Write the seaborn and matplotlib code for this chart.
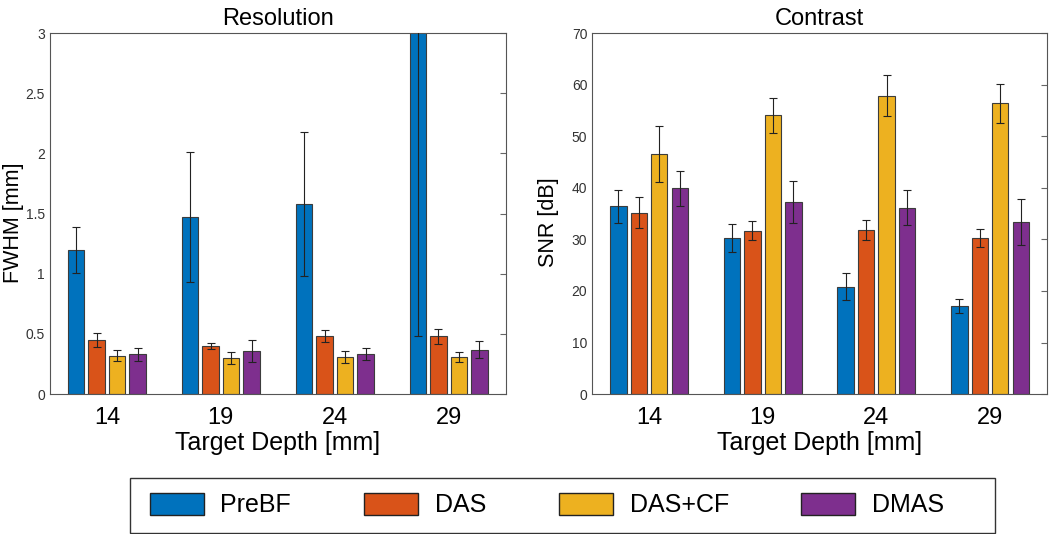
#!/usr/bin/env python3
"""Grouped bar charts of resolution (FWHM) and contrast (SNR) vs target depth."""

import matplotlib.pyplot as plt
import matplotlib.ticker as mticker
from matplotlib.patches import Rectangle
import pandas as pd
import seaborn as sns

DEPTHS = ["14", "19", "24", "29"]
METHODS = ["PreBF", "DAS", "DAS+CF", "DMAS"]
COLORS = ["#0072BD", "#D95319", "#EDB120", "#7E2F8E"]

# FWHM [mm], mean and error per method (one value per depth)
FWHM_PREBF = [1.20, 1.47, 1.58, 3.40]
FWHM_PREBF_ERR = [0.19, 0.54, 0.60, 2.92]
FWHM_DAS = [0.45, 0.40, 0.48, 0.48]
FWHM_DAS_ERR = [0.06, 0.025, 0.05, 0.06]
FWHM_DASCF = [0.32, 0.30, 0.31, 0.31]
FWHM_DASCF_ERR = [0.045, 0.05, 0.05, 0.04]
FWHM_DMAS = [0.33, 0.36, 0.33, 0.37]
FWHM_DMAS_ERR = [0.055, 0.09, 0.05, 0.07]

# SNR [dB]
SNR_PREBF = [36.4, 30.2, 20.8, 17.1]
SNR_PREBF_ERR = [3.2, 2.7, 2.6, 1.4]
SNR_DAS = [35.2, 31.7, 31.8, 30.3]
SNR_DAS_ERR = [3.0, 1.9, 2.0, 1.8]
SNR_DASCF = [46.6, 54.1, 57.9, 56.4]
SNR_DASCF_ERR = [5.4, 3.4, 3.9, 3.8]
SNR_DMAS = [39.9, 37.2, 36.1, 33.4]
SNR_DMAS_ERR = [3.4, 4.1, 3.4, 4.5]


def to_long(values, errors):
    rows = []
    for m, vals, errs in zip(METHODS, values, errors):
        for d, v, e in zip(DEPTHS, vals, errs):
            rows.append({"depth": d, "method": m, "value": v, "err": e})
    return pd.DataFrame(rows)


def grouped_bars(ax, df, ylim, yticks, ylabel, title, label_x):
    sns.barplot(data=df, x="depth", y="value", hue="method", order=DEPTHS,
                hue_order=METHODS, palette=COLORS, errorbar=None, width=0.72,
                gap=0.2, saturation=1, edgecolor="#3c3c3c", linewidth=0.8,
                ax=ax, legend=True)
    # error bars on top of each bar
    for m, cont in zip(METHODS, ax.containers):
        sub = df[df["method"] == m].set_index("depth").loc[DEPTHS]
        xs = [p.get_x() + p.get_width() / 2 for p in cont]
        ax.errorbar(xs, sub["value"], yerr=sub["err"], fmt="none",
                    ecolor="#222222", elinewidth=0.8, capsize=2.6,
                    capthick=0.8, zorder=5)
    ax.set_xlim(-0.5, 3.5)
    ax.set_ylim(*ylim)
    ax.set_yticks(yticks)
    ax.yaxis.set_major_formatter(mticker.FormatStrFormatter("%g"))
    ax.set_xlabel("Target Depth [mm]", fontsize=18, labelpad=2, color="black")
    ax.set_ylabel(ylabel, fontsize=15.5, color="black")
    ax.yaxis.set_label_coords(label_x, 0.476)
    ax.set_title(title, fontsize=17, pad=6, color="black")
    ax.tick_params(axis="y", direction="in", right=True, length=4,
                   labelsize=10, labelcolor="#333333", color="#666666")
    ax.tick_params(axis="x", direction="in", length=3, labelsize=17,
                   labelcolor="black", color="#aaaaaa", pad=9)
    for s in ax.spines.values():
        s.set_visible(True)
        s.set_color("#555555")
        s.set_linewidth(0.8)


def main():
    sns.set_style("white")
    plt.rcParams["font.family"] = ["Liberation Sans", "DejaVu Sans"]

    fwhm = to_long([FWHM_PREBF, FWHM_DAS, FWHM_DASCF, FWHM_DMAS],
                   [FWHM_PREBF_ERR, FWHM_DAS_ERR, FWHM_DASCF_ERR, FWHM_DMAS_ERR])
    snr = to_long([SNR_PREBF, SNR_DAS, SNR_DASCF, SNR_DMAS],
                  [SNR_PREBF_ERR, SNR_DAS_ERR, SNR_DASCF_ERR, SNR_DMAS_ERR])

    fig = plt.figure(figsize=(10.5, 5.34), dpi=100)
    ax1 = fig.add_axes([0.0476, 0.262, 0.434, 0.676])
    ax2 = fig.add_axes([0.564, 0.262, 0.433, 0.676])

    grouped_bars(ax1, fwhm, (0, 3), [0, 0.5, 1, 1.5, 2, 2.5, 3],
                 "FWHM [mm]", "Resolution", -0.056)
    grouped_bars(ax2, snr, (0, 70), range(0, 71, 10), "SNR [dB]", "Contrast",
                 -0.072)

    handles, labels = ax1.get_legend_handles_labels()
    ax1.get_legend().remove()
    ax2.get_legend().remove()
    for h in handles:
        h.set_edgecolor("#222222")
        h.set_linewidth(1.0)
    leg = fig.legend(handles, labels, ncol=4, loc="center",
                     bbox_to_anchor=(547 / 1050, 1 - 505 / 534),
                     fontsize=18, frameon=False, handlelength=2.16,
                     handleheight=0.96, handletextpad=0.68, columnspacing=2.9)
    for t in leg.get_texts():
        t.set_color("black")
    # legend box
    fig.patches.append(Rectangle((130 / 1050, 1 - 533 / 534), 865 / 1050,
                                 55 / 534, transform=fig.transFigure,
                                 fill=False, edgecolor="#333333",
                                 linewidth=1.0))

    fig.savefig("out.png", dpi=100)


if __name__ == "__main__":
    main()
